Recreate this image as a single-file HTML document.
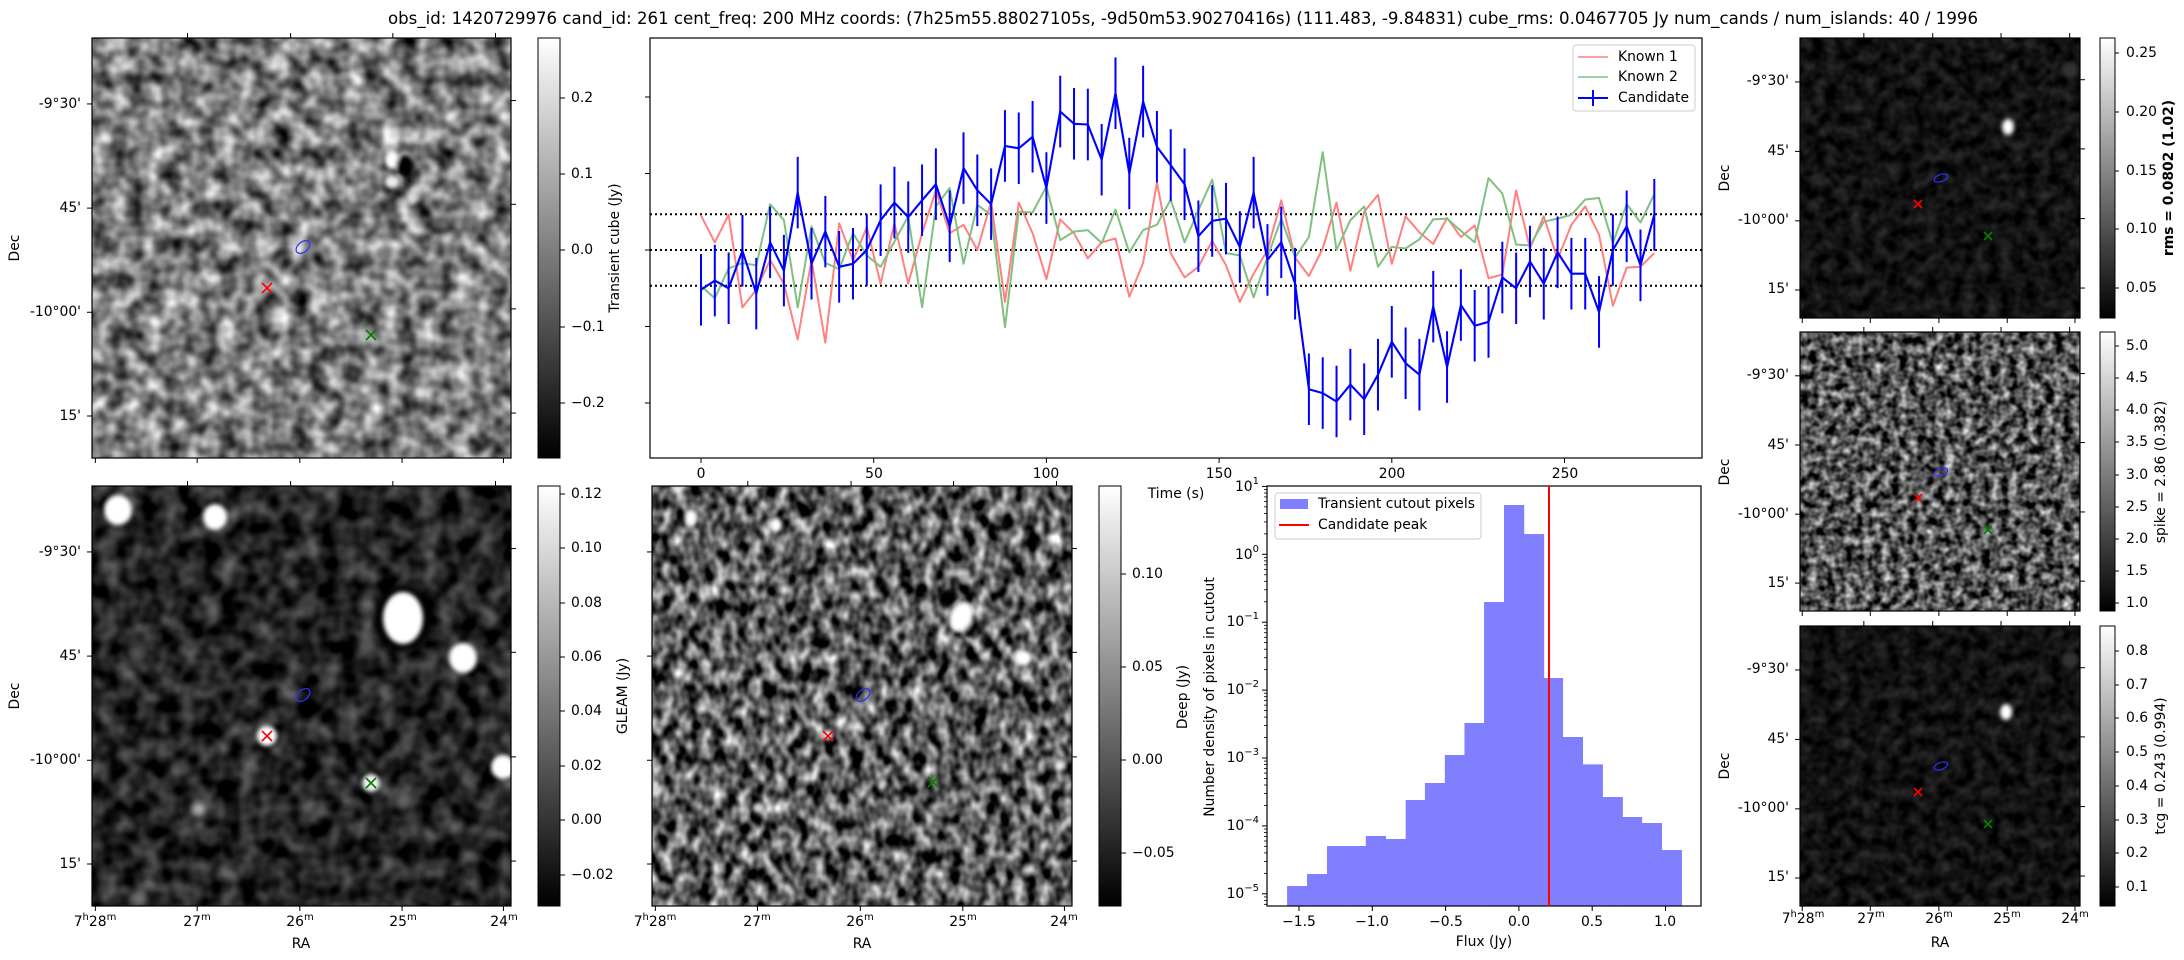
<!DOCTYPE html>
<html><head><meta charset="utf-8"><style>
html,body{margin:0;padding:0;background:#fff}
svg{display:block}
text{font-family:"DejaVu Sans","Liberation Sans",sans-serif;font-size:13.9px;fill:#000}
.t{dominant-baseline:central}
</style></head><body>
<svg id="s" width="2184" height="960" viewBox="0 0 2184 960" xmlns="http://www.w3.org/2000/svg">
<defs>
<filter id="fA" x="0" y="0" width="1" height="1" color-interpolation-filters="sRGB"><feTurbulence type="fractalNoise" baseFrequency="0.055" numOctaves="2" seed="3"/><feColorMatrix type="matrix" values="1.3 0 0 0 -0.16  1.3 0 0 0 -0.16  1.3 0 0 0 -0.16  0 0 0 0 1"/></filter>
<filter id="fB" x="0" y="0" width="1" height="1" color-interpolation-filters="sRGB"><feTurbulence type="fractalNoise" baseFrequency="0.05" numOctaves="2" seed="9"/><feColorMatrix type="matrix" values="0.7 0 0 0 -0.21  0.7 0 0 0 -0.21  0.7 0 0 0 -0.21  0 0 0 0 1"/></filter>
<filter id="fC" x="0" y="0" width="1" height="1" color-interpolation-filters="sRGB"><feTurbulence type="fractalNoise" baseFrequency="0.08 0.06" numOctaves="2" seed="21"/><feColorMatrix type="matrix" values="1.7 0 0 0 -0.49  1.7 0 0 0 -0.49  1.7 0 0 0 -0.49  0 0 0 0 1"/></filter>
<filter id="fD" x="0" y="0" width="1" height="1" color-interpolation-filters="sRGB"><feTurbulence type="fractalNoise" baseFrequency="0.08" numOctaves="2" seed="5"/><feColorMatrix type="matrix" values="0.3 0 0 0 -0.08  0.3 0 0 0 -0.08  0.3 0 0 0 -0.08  0 0 0 0 1"/></filter>
<filter id="fE" x="0" y="0" width="1" height="1" color-interpolation-filters="sRGB"><feTurbulence type="fractalNoise" baseFrequency="0.11" numOctaves="2" seed="13"/><feColorMatrix type="matrix" values="1.5 0 0 0 -0.42  1.5 0 0 0 -0.42  1.5 0 0 0 -0.42  0 0 0 0 1"/></filter>
<filter id="bl"><feGaussianBlur stdDeviation="2"/></filter>
<filter id="bl4"><feGaussianBlur stdDeviation="4"/></filter>
<linearGradient id="cg" x1="0" y1="0" x2="0" y2="1"><stop offset="0" stop-color="#fff"/><stop offset="1" stop-color="#000"/></linearGradient>
<clipPath id="cTL"><rect x="92" y="38" width="419" height="420"/></clipPath>
<clipPath id="cBL"><rect x="92" y="486" width="419" height="420"/></clipPath>
<clipPath id="cBM"><rect x="652" y="486" width="420" height="420"/></clipPath>
<clipPath id="cR1"><rect x="1800" y="38" width="280" height="280"/></clipPath>
<clipPath id="cR3"><rect x="1800" y="626" width="280" height="280"/></clipPath>
</defs>

<text x="1183" y="18" text-anchor="middle" class="t" style="font-size:16.7px" textLength="1590" lengthAdjust="spacingAndGlyphs">obs_id: 1420729976 cand_id: 261 cent_freq: 200 MHz coords: (7h25m55.88027105s, -9d50m53.90270416s) (111.483, -9.84831) cube_rms: 0.0467705 Jy num_cands / num_islands: 40 / 1996</text>

<g clip-path="url(#cTL)">
<rect x="92" y="38" width="419" height="420" filter="url(#fA)"/>
<g filter="url(#bl)">
<ellipse cx="392" cy="160" rx="7" ry="9" fill="#fff"/>
<ellipse cx="405" cy="166" rx="9" ry="11" fill="#000"/>
<ellipse cx="392" cy="182" rx="7" ry="6" fill="#eee"/>
<ellipse cx="412" cy="198" rx="5" ry="6" fill="#ddd"/>
<ellipse cx="409" cy="180" rx="4" ry="5" fill="#111"/>
</g>
</g>
<rect x="92" y="38" width="419" height="420" fill="none" stroke="#000" stroke-width="1.2"/>
<g id="mTL"></g>

<rect x="538" y="38" width="22" height="420" fill="url(#cg)" stroke="#000" stroke-width="1"/>
<text x="571" y="98" class="t">0.2</text>
<text x="571" y="174" class="t">0.1</text>
<text x="571" y="250" class="t">0.0</text>
<text x="571" y="327" class="t">−0.1</text>
<text x="571" y="403" class="t">−0.2</text>
<text transform="translate(615,248) rotate(-90)" text-anchor="middle" class="t">Transient cube (Jy)</text>
<text x="81" y="104" text-anchor="end" class="t">-9°30'</text>
<text x="81" y="208" text-anchor="end" class="t">45'</text>
<text x="81" y="312" text-anchor="end" class="t">-10°00'</text>
<text x="81" y="416" text-anchor="end" class="t">15'</text>
<text transform="translate(15,248) rotate(-90)" text-anchor="middle" class="t">Dec</text>

<rect x="650" y="38" width="1052" height="420" fill="#fff" stroke="#000" stroke-width="1.2"/>
<g id="ts"></g>
<text x="701" y="474" text-anchor="middle" class="t">0</text>
<text x="874" y="474" text-anchor="middle" class="t">50</text>
<text x="1046" y="474" text-anchor="middle" class="t">100</text>
<text x="1219" y="474" text-anchor="middle" class="t">150</text>
<text x="1392" y="474" text-anchor="middle" class="t">200</text>
<text x="1565" y="474" text-anchor="middle" class="t">250</text>
<text x="1176" y="494" text-anchor="middle" class="t">Time (s)</text>
<g id="leg">
<rect x="1573" y="45" width="122" height="66" rx="3" fill="#fff" fill-opacity="0.8" stroke="#ccc"/>
<line x1="1578" y1="57" x2="1608" y2="57" stroke="#ff8080" stroke-width="1.5"/>
<line x1="1578" y1="77" x2="1608" y2="77" stroke="#80c080" stroke-width="1.5"/>
<line x1="1578" y1="98" x2="1608" y2="98" stroke="#0000ff" stroke-width="2"/>
<line x1="1593" y1="90" x2="1593" y2="106" stroke="#0000ff" stroke-width="2"/>
<text x="1618" y="57" class="t">Known 1</text>
<text x="1618" y="77" class="t">Known 2</text>
<text x="1618" y="98" class="t">Candidate</text>
</g>

<g clip-path="url(#cBL)">
<rect x="92" y="486" width="419" height="420" filter="url(#fB)"/>
<g filter="url(#bl4)">
<circle cx="137" cy="653" r="9" fill="#555"/>
<circle cx="366" cy="646" r="8" fill="#555"/>
<circle cx="403" cy="801" r="8" fill="#666"/>
<circle cx="140" cy="899" r="8" fill="#777"/>
<circle cx="199" cy="809" r="8" fill="#bbb"/>
<ellipse cx="403" cy="618" rx="30" ry="34" fill="#000"/>
</g>
<g filter="url(#bl)">
<ellipse cx="118" cy="510" rx="14" ry="15" fill="#fff"/>
<ellipse cx="215" cy="517" rx="12" ry="13" fill="#fff"/>
<ellipse cx="403" cy="618" rx="20" ry="26" fill="#fff"/>
<ellipse cx="463" cy="658" rx="14" ry="15" fill="#fff"/>
<circle cx="267" cy="736" r="10" fill="#fff"/>
<circle cx="371" cy="783" r="9" fill="#f4f4f4"/>
<circle cx="503" cy="767" r="12" fill="#fff"/>
</g>
</g>
<rect x="92" y="486" width="419" height="420" fill="none" stroke="#000" stroke-width="1.2"/>
<g id="mBL"></g>
<rect x="538" y="486" width="22" height="420" fill="url(#cg)" stroke="#000" stroke-width="1"/>
<text x="571" y="494" class="t">0.12</text>
<text x="571" y="548" class="t">0.10</text>
<text x="571" y="603" class="t">0.08</text>
<text x="571" y="657" class="t">0.06</text>
<text x="571" y="711" class="t">0.04</text>
<text x="571" y="766" class="t">0.02</text>
<text x="571" y="820" class="t">0.00</text>
<text x="571" y="875" class="t">−0.02</text>
<text transform="translate(623,696) rotate(-90)" text-anchor="middle" class="t">GLEAM (Jy)</text>
<text x="81" y="552" text-anchor="end" class="t">-9°30'</text>
<text x="81" y="656" text-anchor="end" class="t">45'</text>
<text x="81" y="760" text-anchor="end" class="t">-10°00'</text>
<text x="81" y="864" text-anchor="end" class="t">15'</text>
<text transform="translate(15,696) rotate(-90)" text-anchor="middle" class="t">Dec</text>
<text x="95" y="922" text-anchor="middle" class="t">7<tspan dy="-5" font-size="10px">h</tspan><tspan dy="5">28</tspan><tspan dy="-5" font-size="10px">m</tspan></text>
<text x="197" y="922" text-anchor="middle" class="t">27<tspan dy="-5" font-size="10px">m</tspan></text>
<text x="300" y="922" text-anchor="middle" class="t">26<tspan dy="-5" font-size="10px">m</tspan></text>
<text x="403" y="922" text-anchor="middle" class="t">25<tspan dy="-5" font-size="10px">m</tspan></text>
<text x="504" y="922" text-anchor="middle" class="t">24<tspan dy="-5" font-size="10px">m</tspan></text>
<text x="301" y="944" text-anchor="middle" class="t">RA</text>

<g clip-path="url(#cBM)">
<rect x="652" y="486" width="420" height="420" filter="url(#fC)"/>
<g filter="url(#bl)">
<ellipse cx="691" cy="518" rx="6" ry="8" fill="#fff"/>
<ellipse cx="776" cy="525" rx="6" ry="7" fill="#fff"/>
<ellipse cx="948" cy="598" rx="10" ry="9" fill="#000"/>
<ellipse cx="969" cy="628" rx="7" ry="10" fill="#000"/>
<ellipse cx="961" cy="617" rx="11" ry="16" fill="#fff" transform="rotate(25 961 617)"/>
<ellipse cx="1023" cy="658" rx="9" ry="8" fill="#fff"/>
<circle cx="828" cy="735" r="5" fill="#fff"/>
<circle cx="1060" cy="766" r="5" fill="#eee"/>
<circle cx="758" cy="808" r="5" fill="#ddd"/>
</g>
</g>
<rect x="652" y="486" width="420" height="420" fill="none" stroke="#000" stroke-width="1.2"/>
<g id="mBM"></g>
<rect x="1099" y="486" width="22" height="420" fill="url(#cg)" stroke="#000" stroke-width="1"/>
<text x="1132" y="574" class="t">0.10</text>
<text x="1132" y="667" class="t">0.05</text>
<text x="1132" y="760" class="t">0.00</text>
<text x="1132" y="853" class="t">−0.05</text>
<text transform="translate(1183,697) rotate(-90)" text-anchor="middle" class="t">Deep (Jy)</text>
<text x="655" y="922" text-anchor="middle" class="t">7<tspan dy="-5" font-size="10px">h</tspan><tspan dy="5">28</tspan><tspan dy="-5" font-size="10px">m</tspan></text>
<text x="757" y="922" text-anchor="middle" class="t">27<tspan dy="-5" font-size="10px">m</tspan></text>
<text x="860" y="922" text-anchor="middle" class="t">26<tspan dy="-5" font-size="10px">m</tspan></text>
<text x="963" y="922" text-anchor="middle" class="t">25<tspan dy="-5" font-size="10px">m</tspan></text>
<text x="1064" y="922" text-anchor="middle" class="t">24<tspan dy="-5" font-size="10px">m</tspan></text>
<text x="862" y="944" text-anchor="middle" class="t">RA</text>

<g id="hist"></g>
<rect x="1267" y="486" width="434" height="420" fill="none" stroke="#000" stroke-width="1.2"/>
<line x1="1549" y1="486" x2="1549" y2="906" stroke="#ff0000" stroke-width="2"/>
<text x="1259" y="487" text-anchor="end" class="t">10<tspan dy="-6" font-size="10px">1</tspan></text>
<text x="1259" y="555" text-anchor="end" class="t">10<tspan dy="-6" font-size="10px">0</tspan></text>
<text x="1259" y="622" text-anchor="end" class="t">10<tspan dy="-6" font-size="10px">−1</tspan></text>
<text x="1259" y="690" text-anchor="end" class="t">10<tspan dy="-6" font-size="10px">−2</tspan></text>
<text x="1259" y="758" text-anchor="end" class="t">10<tspan dy="-6" font-size="10px">−3</tspan></text>
<text x="1259" y="826" text-anchor="end" class="t">10<tspan dy="-6" font-size="10px">−4</tspan></text>
<text x="1259" y="894" text-anchor="end" class="t">10<tspan dy="-6" font-size="10px">−5</tspan></text>
<text x="1299" y="922" text-anchor="middle" class="t">−1.5</text>
<text x="1372" y="922" text-anchor="middle" class="t">−1.0</text>
<text x="1446" y="922" text-anchor="middle" class="t">−0.5</text>
<text x="1519" y="922" text-anchor="middle" class="t">0.0</text>
<text x="1592" y="922" text-anchor="middle" class="t">0.5</text>
<text x="1665" y="922" text-anchor="middle" class="t">1.0</text>
<text x="1484" y="942" text-anchor="middle" class="t">Flux (Jy)</text>
<text transform="translate(1210,697) rotate(-90)" text-anchor="middle" class="t">Number density of pixels in cutout</text>
<rect x="1275" y="493" width="206" height="46" rx="3" fill="#fff" fill-opacity="0.8" stroke="#ccc"/>
<rect x="1280" y="499" width="28" height="10" fill="#8080ff"/>
<line x1="1279" y1="525" x2="1309" y2="525" stroke="#ff0000" stroke-width="2"/>
<text x="1318" y="504" class="t">Transient cutout pixels</text>
<text x="1318" y="525" class="t">Candidate peak</text>

<g clip-path="url(#cR1)">
<rect x="1800" y="38" width="280" height="280" filter="url(#fD)"/>
<g filter="url(#bl)"><ellipse cx="2008" cy="127" rx="6" ry="8" fill="#fff"/><circle cx="2070" cy="70" r="8" fill="#333"/></g>
</g>
<rect x="1800" y="38" width="280" height="280" fill="none" stroke="#000" stroke-width="1.2"/>
<rect x="1800" y="332" width="280" height="279" filter="url(#fE)"/>
<rect x="1800" y="332" width="280" height="279" fill="none" stroke="#000" stroke-width="1.2"/>
<g clip-path="url(#cR3)">
<rect x="1800" y="626" width="280" height="280" filter="url(#fD)"/>
<g filter="url(#bl)"><ellipse cx="2006" cy="712" rx="6" ry="8" fill="#fff"/><circle cx="2070" cy="660" r="8" fill="#333"/></g>
</g>
<rect x="1800" y="626" width="280" height="280" fill="none" stroke="#000" stroke-width="1.2"/>
<g id="mR"></g>

<rect x="2100" y="38" width="15" height="280" fill="url(#cg)" stroke="#000" stroke-width="1"/>
<rect x="2100" y="332" width="15" height="279" fill="url(#cg)" stroke="#000" stroke-width="1"/>
<rect x="2100" y="626" width="15" height="280" fill="url(#cg)" stroke="#000" stroke-width="1"/>
<text x="2126" y="53" class="t">0.25</text>
<text x="2126" y="112" class="t">0.20</text>
<text x="2126" y="171" class="t">0.15</text>
<text x="2126" y="229" class="t">0.10</text>
<text x="2126" y="288" class="t">0.05</text>
<text x="2126" y="346" class="t">5.0</text>
<text x="2126" y="378" class="t">4.5</text>
<text x="2126" y="410" class="t">4.0</text>
<text x="2126" y="442" class="t">3.5</text>
<text x="2126" y="475" class="t">3.0</text>
<text x="2126" y="507" class="t">2.5</text>
<text x="2126" y="539" class="t">2.0</text>
<text x="2126" y="571" class="t">1.5</text>
<text x="2126" y="603" class="t">1.0</text>
<text x="2126" y="651" class="t">0.8</text>
<text x="2126" y="685" class="t">0.7</text>
<text x="2126" y="718" class="t">0.6</text>
<text x="2126" y="752" class="t">0.5</text>
<text x="2126" y="786" class="t">0.4</text>
<text x="2126" y="820" class="t">0.3</text>
<text x="2126" y="853" class="t">0.2</text>
<text x="2126" y="887" class="t">0.1</text>
<text transform="translate(2169,178) rotate(-90)" text-anchor="middle" class="t" font-weight="bold">rms = 0.0802 (1.02)</text>
<text transform="translate(2161,472) rotate(-90)" text-anchor="middle" class="t">spike = 2.86 (0.382)</text>
<text transform="translate(2161,766) rotate(-90)" text-anchor="middle" class="t">tcg = 0.243 (0.994)</text>
<text x="1789" y="81" text-anchor="end" class="t">-9°30'</text>
<text x="1789" y="151" text-anchor="end" class="t">45'</text>
<text x="1789" y="220" text-anchor="end" class="t">-10°00'</text>
<text x="1789" y="289" text-anchor="end" class="t">15'</text>
<text x="1789" y="375" text-anchor="end" class="t">-9°30'</text>
<text x="1789" y="445" text-anchor="end" class="t">45'</text>
<text x="1789" y="514" text-anchor="end" class="t">-10°00'</text>
<text x="1789" y="583" text-anchor="end" class="t">15'</text>
<text x="1789" y="669" text-anchor="end" class="t">-9°30'</text>
<text x="1789" y="739" text-anchor="end" class="t">45'</text>
<text x="1789" y="808" text-anchor="end" class="t">-10°00'</text>
<text x="1789" y="877" text-anchor="end" class="t">15'</text>
<text transform="translate(1725,178) rotate(-90)" text-anchor="middle" class="t">Dec</text>
<text transform="translate(1725,472) rotate(-90)" text-anchor="middle" class="t">Dec</text>
<text transform="translate(1725,766) rotate(-90)" text-anchor="middle" class="t">Dec</text>
<text x="1803" y="919" text-anchor="middle" class="t">7<tspan dy="-5" font-size="10px">h</tspan><tspan dy="5">28</tspan><tspan dy="-5" font-size="10px">m</tspan></text>
<text x="1871" y="919" text-anchor="middle" class="t">27<tspan dy="-5" font-size="10px">m</tspan></text>
<text x="1939" y="919" text-anchor="middle" class="t">26<tspan dy="-5" font-size="10px">m</tspan></text>
<text x="2007" y="919" text-anchor="middle" class="t">25<tspan dy="-5" font-size="10px">m</tspan></text>
<text x="2075" y="919" text-anchor="middle" class="t">24<tspan dy="-5" font-size="10px">m</tspan></text>
<text x="1940" y="943" text-anchor="middle" class="t">RA</text>
<g id="ticks"></g>
</svg>
<script>
(function(){
var NS="http://www.w3.org/2000/svg";
function el(p,n,a){var e=document.createElementNS(NS,n);for(var k in a)e.setAttribute(k,a[k]);p.appendChild(e);return e;}
function L(p,x1,y1,x2,y2,c,w){return el(p,"line",{x1:x1,y1:y1,x2:x2,y2:y2,stroke:c||"#000","stroke-width":w||1});}
var blue=[-0.052,-0.040,-0.050,-0.001,-0.057,0.010,-0.027,0.075,-0.018,0.024,-0.022,-0.018,0.0,0.039,0.062,0.043,0.065,0.086,0.031,0.107,0.078,0.060,0.136,0.133,0.148,0.081,0.181,0.165,0.164,0.118,0.205,0.100,0.194,0.135,0.111,0.086,0.018,0.038,0.041,0.004,0.075,-0.013,0.010,-0.044,-0.182,-0.187,-0.198,-0.176,-0.195,-0.163,-0.120,-0.148,-0.163,-0.074,-0.153,-0.072,-0.099,-0.094,-0.036,-0.050,-0.015,-0.044,-0.003,-0.031,-0.031,-0.081,0.0,0.031,-0.020,0.046];
var red=[0.045,0.010,0.046,-0.075,-0.052,-0.013,-0.044,-0.117,-0.013,-0.121,0.035,-0.014,0.030,-0.044,0.035,-0.044,0.022,0.078,0.022,0.033,0.0,0.063,-0.068,0.062,0.022,-0.038,0.040,0.022,-0.011,0.010,0.015,-0.061,-0.017,0.088,-0.004,-0.036,-0.022,0.012,-0.020,-0.068,-0.031,0.0,0.065,-0.010,-0.034,0.002,0.062,-0.027,0.050,0.072,-0.018,0.044,0.023,0.008,0.042,0.017,0.032,-0.037,-0.032,0.078,0.002,0.044,-0.012,0.033,0.057,0.020,-0.073,-0.023,-0.022,-0.004];
var green=[-0.047,-0.063,-0.024,-0.017,-0.020,0.060,0.039,-0.075,0.031,-0.017,-0.025,0.022,-0.007,-0.022,0.011,0.044,-0.075,0.057,0.081,-0.018,0.059,0.046,-0.101,0.050,0.049,0.083,0.013,0.024,0.026,0.009,0.053,-0.003,0.026,0.033,0.066,0.010,0.052,0.092,-0.004,-0.007,-0.062,-0.009,0.041,-0.010,0.017,0.128,0.0,0.039,0.057,-0.022,0.004,0.002,0.014,0.040,0.041,0.025,0.010,0.094,0.074,0.007,0.006,0.037,0.041,0.046,0.066,0.068,0.009,0.060,0.036,0.073];
var X=function(i){return 701+3.454*4*i;}, Y=function(v){return 250-765*v;};
var ts=document.getElementById("ts");
[0.0467705,0,-0.0467705].forEach(function(v){el(ts,"line",{x1:650,x2:1702,y1:Y(v),y2:Y(v),stroke:"#000","stroke-width":2,"stroke-dasharray":"2,3"});});
function poly(d,c,w){var p=d.map(function(v,i){return X(i).toFixed(1)+","+Y(v).toFixed(1);}).join(" ");el(ts,"polyline",{points:p,fill:"none",stroke:c,"stroke-width":w,"stroke-linejoin":"round"});}
poly(red,"#ff8080",2);poly(green,"#80c080",2);
blue.forEach(function(v,i){L(ts,X(i),Y(v+0.0467705),X(i),Y(v-0.0467705),"#0000ff",2);});
poly(blue,"#0000ff",2.1);
var tk=document.getElementById("ticks");
[0.2,0.1,0,-0.1,-0.2].forEach(function(v){L(tk,645,Y(v),650,Y(v));});
[0,50,100,150,200,250].forEach(function(t){var x=701+3.454*t;L(tk,x,458,x,463);});
[98,174,250,327,403].forEach(function(y){L(tk,560,y,565,y);});
[494,548,603,657,711,766,820,875].forEach(function(y){L(tk,560,y,565,y);});
[574,667,760,853].forEach(function(y){L(tk,1121,y,1126,y);});
[53,112,171,229,288,346,378,410,442,475,507,539,571,603,651,685,718,752,786,820,853,887].forEach(function(y){L(tk,2115,y,2119,y);});
function imgTicks(x0,y0,w,h){
 [0.157,0.405,0.653,0.9].forEach(function(f){L(tk,x0-5,y0+f*h,x0,y0+f*h);});
 [0.149,0.396,0.645,0.893].forEach(function(f){L(tk,x0+w,y0+f*h,x0+w+5,y0+f*h);});
 [0.228,0.474,0.718,0.963].forEach(function(f){L(tk,x0+f*w,y0-5,x0+f*w,y0);});
 [0.008,0.251,0.496,0.74,0.982].forEach(function(f){L(tk,x0+f*w,y0+h,x0+f*w,y0+h+5);});
}
imgTicks(92,38,419,420);imgTicks(92,486,419,420);imgTicks(652,486,420,420);
imgTicks(1800,38,280,280);imgTicks(1800,332,280,279);imgTicks(1800,626,280,280);
function mk(g,x,y,c,s){s=s||5;L(g,x-s,y-s,x+s,y+s,c,1.6);L(g,x-s,y+s,x+s,y-s,c,1.6);}
function ct(g,x,y){el(g,"ellipse",{cx:x,cy:y,rx:8,ry:5,fill:"none",stroke:"#3030ff","stroke-width":1.2,transform:"rotate(-40 "+x+" "+y+")"});}
var g=document.getElementById("mTL");mk(g,267,288,"#ff0000");mk(g,371,335,"#008000");ct(g,303,247);
g=document.getElementById("mBL");mk(g,267,736,"#ff0000");mk(g,371,783,"#008000");ct(g,303,695);
g=document.getElementById("mBM");mk(g,828,736,"#ff0000");mk(g,933,782,"#008000");ct(g,863,695);
g=document.getElementById("mR");
[38,332,626].forEach(function(y0){mk(g,1918,y0+166,"#ff0000",4);mk(g,1988,y0+198,"#008000",4);el(g,"ellipse",{cx:1941,cy:y0+140,rx:7,ry:3.5,fill:"none",stroke:"#3030ff","stroke-width":1.2,transform:"rotate(-20 1941 "+(y0+140)+")"});});
var h=document.getElementById("hist");
var ze=[317,376,435,493,550,609,668,725,784,842,900,959,1018,1077,1133,1192,1251,1310,1367,1426,1485];
var zt=[1248,1212,1128,1128,1098,1107,990,939,855,759,396,105,192,624,801,883,981,1041,1059,1140];
for(var i=0;i<20;i++){var xa=1180+ze[i]/2.96,xb=1180+ze[i+1]/2.96,yt=470+zt[i]/3;el(h,"rect",{x:xa,y:yt,width:xb-xa+0.3,height:906-yt,fill:"#8080ff"});}
for(var d=1;d>=-6;d--){for(var m=1;m<10;m++){var y=554.3-67.9*(d+Math.log10(m));if(y<486||y>906)continue;if(m==1)L(tk,1262,y,1267,y);else L(tk,1264,y,1267,y,"#000",0.8);}}
[-1.5,-1,-0.5,0,0.5,1].forEach(function(f){var x=1518.9+146.6*f;L(tk,x,906,x,911);});
})();
</script>
</body></html>
